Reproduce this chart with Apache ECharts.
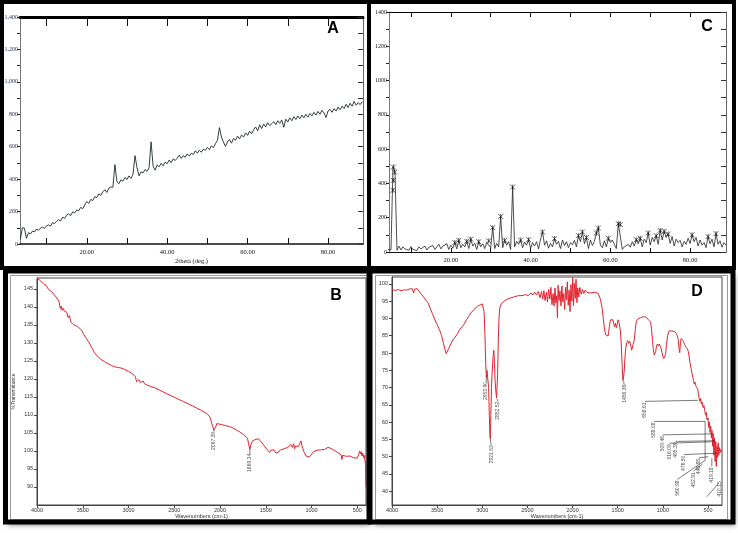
<!DOCTYPE html>
<html>
<head>
<meta charset="utf-8">
<script src="https://cdn.jsdelivr.net/npm/echarts@6/dist/echarts.min.js"></script>
<style>
  html, body { margin: 0; padding: 0; background: #fff; }
  #chart { width: 738px; height: 533px; }
</style>
</head>
<body>
<div id="chart"></div>
<script>
// ---- A: XRD pattern (2theta from 3.5, every 0.5 deg) ----
const xrdAStart = 3.5, xrdAStep = 0.5;
const xrdA = [
  30, 100, 98, 35, 70, 62, 80, 74, 92, 85,
  98, 104, 96, 112, 118, 110, 132, 126, 140, 150,
  142, 165, 158, 178, 186, 175, 198, 192, 210, 205,
  226, 218, 240, 262, 250, 275, 268, 292, 286, 310,
  300, 322, 335, 318, 345, 352, 350, 490, 385, 372,
  395, 388, 410, 398, 420, 405, 430, 545, 470, 420,
  445, 438, 460, 448, 470, 630, 480, 455, 488, 476,
  498, 482, 505, 495, 518, 502, 525, 515, 530, 548,
  528, 545, 535, 556, 542, 560, 552, 575, 560, 578,
  566, 585, 578, 596, 582, 605, 595, 618, 640, 718,
  660, 628, 602, 630, 645, 622, 652, 640, 665, 648,
  672, 660, 685, 670, 696, 680, 705, 722, 698, 735,
  712, 740, 722, 748, 730, 742, 755, 736, 760, 744,
  765, 720, 770, 752, 778, 760, 785, 768, 790, 772,
  795, 778, 800, 782, 805, 790, 812, 795, 818, 800,
  825, 808, 780, 820, 830, 812, 835, 820, 845, 828,
  850, 835, 862, 842, 868, 850, 880, 856, 872, 860,
  878
];

// ---- C: XRD pattern (2theta from 4.0, every 0.5 deg) ----
const xrdCStart = 4.0, xrdCStep = 0.5;
const xrdC = [
  15, 8, 12, 496, 470, 10, 35, 12, 30, 18,
  28, 10, 32, 15, 25, 8, 30, 18, 22, 35,
  12, 28, 20, 38, 15, 30, 45, 18, 35, 25,
  48, 15, 40, 22, 55, 18, 68, 25, 45, 30,
  62, 20, 75, 35, 50, 15, 60, 30, 48, 20,
  55, 65, 25, 142, 20, 50, 30, 208, 25, 68,
  40, 60, 15, 379, 30, 62, 45, 70, 25, 58,
  40, 72, 20, 55, 35, 60, 18, 75, 117, 40,
  65, 22, 50, 30, 78, 45, 62, 20, 70, 38,
  60, 25, 55, 42, 68, 30, 95, 60, 117, 48,
  85, 20, 70, 38, 62, 110, 140, 40, 25, 65,
  30, 80, 55, 70, 45, 20, 165, 160, 15, 30,
  20, 45, 28, 60, 35, 72, 48, 80, 30, 75,
  55, 111, 40, 85, 60, 95, 45, 126, 70, 120,
  85, 105, 50, 90, 35, 75, 55, 68, 30, 62,
  45, 80, 50, 100, 60, 85, 35, 70, 40, 55,
  25, 90, 48, 75, 30, 107, 45, 65, 28, 55,
  40
];
// peak marks (x) in C
const xrdCPeakX = [5.6, 5.9, 5.6, 5.5, 21, 22, 24, 25, 27, 29.5, 30.5, 32.5, 33.5, 35.5, 37.5, 39.5,
  43, 46, 52, 53, 54, 56.5, 57, 59.5, 62, 62.5, 66.5, 67.5, 69.5, 71.5, 72.5, 73.5, 74.5, 80.5, 84.5, 86.5];
const xrdCPeakY = [496, 466, 418, 360, 55, 68, 62, 75, 60, 65, 142, 208, 68, 379, 70, 72,
  117, 78, 95, 117, 85, 110, 140, 80, 165, 160, 72, 80, 111, 95, 126, 120, 105, 100, 90, 107];

// ---- B: FTIR ----
const irBWn = [
  4000, 3960, 3930, 3900, 3880, 3860, 3840, 3820, 3800, 3780,
  3760, 3750, 3745, 3735, 3725, 3715, 3700, 3690, 3675, 3660,
  3645, 3630, 3615, 3600, 3580, 3560, 3540, 3515, 3490, 3460,
  3430, 3400, 3375, 3350, 3320, 3290, 3250, 3200, 3160, 3120,
  3080, 3040, 3000, 2970, 2945, 2925, 2912, 2900, 2885, 2870,
  2855, 2840, 2825, 2800, 2700, 2600, 2500, 2400, 2300, 2200,
  2140, 2110, 2090, 2067, 2050, 2035, 2015, 1980, 1940, 1900,
  1860, 1820, 1780, 1740, 1720, 1700, 1688, 1674, 1662, 1645,
  1620, 1600, 1580, 1560, 1540, 1520, 1500, 1480, 1460, 1445,
  1430, 1410, 1390, 1375, 1360, 1340, 1320, 1300, 1280, 1260,
  1240, 1225, 1210, 1195, 1185, 1175, 1160, 1145, 1130, 1115,
  1105, 1095, 1080, 1060, 1040, 1025, 1010, 995, 980, 960,
  940, 920, 900, 880, 860, 840, 820, 800, 780, 760,
  740, 720, 700, 685, 675, 668, 660, 640, 620, 600,
  580, 560, 540, 520, 500, 485, 475, 465, 458, 450,
  440, 432, 425, 418, 412, 408, 405
];
const irBT = [
  148.0, 147.2, 146.4, 146.0, 145.0, 145.3, 144.2, 144.0, 143.0, 142.6,
  141.6, 141.9, 139.5, 140.2, 139.0, 139.6, 138.8, 139.1, 138.5, 137.0,
  137.6, 135.8, 136.0, 135.0, 134.9, 134.6, 134.2, 133.6, 132.4, 131.2,
  130.0, 128.6, 127.4, 126.6, 125.8, 125.2, 124.6, 123.9, 123.4, 123.2,
  123.0, 122.6, 122.1, 121.6, 121.2, 120.6, 119.2, 119.6, 119.8, 119.0,
  119.1, 119.4, 118.6, 118.3, 117.4, 116.1, 114.9, 113.7, 112.5, 111.2,
  110.3, 109.4, 107.6, 105.8, 106.5, 107.6, 107.8, 107.3, 107.0, 106.8,
  106.4, 105.8, 105.2, 104.5, 104.0, 103.5, 102.0, 100.4, 101.8, 102.8,
  103.1, 103.0, 103.4, 102.8, 102.2, 101.5, 101.0, 100.2, 99.6, 100.2,
  100.0, 100.3, 99.4, 99.8, 99.7, 100.3, 100.5, 100.6, 100.8, 101.0,
  101.3, 101.8, 101.0, 102.0, 100.6, 101.4, 100.9, 101.2, 102.0, 102.8,
  101.5, 100.6, 99.6, 98.6, 98.2, 98.3, 98.6, 99.2, 99.8, 100.0,
  100.2, 99.8, 100.3, 100.5, 100.4, 100.8, 101.0, 101.0, 100.6, 100.4,
  100.0, 99.7, 99.3, 99.0, 98.8, 97.6, 98.8, 98.7, 98.5, 98.2,
  98.6, 98.3, 98.1, 98.4, 98.0, 99.0, 100.0, 99.2, 99.8, 98.6,
  99.4, 98.2, 98.8, 97.6, 96.6, 93.0, 90.0
];
const irBNoteText = ['2067.39', '1669.34'];
const irBNoteAt = [[2067, 105.3], [1674, 99.2]];
const irBNoteLeader = [[[2067, 105.8], [2067, 105.3]], [[1674, 100.4], [1674, 99.2]]];

// ---- D: FTIR ----
const irDWn = [
  4000, 3960, 3930, 3900, 3870, 3840, 3810, 3790, 3775, 3760,
  3750, 3740, 3720, 3700, 3675, 3650, 3625, 3600, 3575, 3550,
  3525, 3500, 3475, 3450, 3430, 3415, 3400, 3385, 3370, 3350,
  3325, 3300, 3275, 3250, 3225, 3200, 3175, 3150, 3125, 3100,
  3075, 3050, 3025, 3000, 2990, 2980, 2970, 2962, 2955, 2948,
  2940, 2930, 2922, 2915, 2911, 2905, 2898, 2892, 2880, 2872,
  2865, 2858, 2850, 2842, 2837, 2830, 2822, 2815, 2807, 2790,
  2760, 2715, 2680, 2640, 2600, 2560, 2520, 2490, 2460, 2440,
  2420, 2400, 2380, 2360, 2345, 2330, 2318, 2305, 2290, 2278,
  2265, 2252, 2240, 2228, 2216, 2205, 2195, 2185, 2175, 2168,
  2160, 2150, 2140, 2128, 2118, 2108, 2098, 2088, 2078, 2068,
  2058, 2048, 2038, 2028, 2018, 2008, 1998, 1990, 1980, 1970,
  1962, 1952, 1942, 1932, 1920, 1905, 1890, 1875, 1860, 1840,
  1820, 1800, 1780, 1760, 1740, 1718, 1700, 1690, 1681, 1670,
  1660, 1650, 1640, 1630, 1620, 1607, 1600, 1590, 1580, 1570,
  1560, 1552, 1545, 1535, 1525, 1515, 1505, 1495, 1485, 1478,
  1470, 1460, 1450, 1442, 1435, 1428, 1420, 1410, 1400, 1390,
  1380, 1367, 1355, 1345, 1335, 1325, 1315, 1305, 1293, 1280,
  1265, 1250, 1235, 1220, 1200, 1185, 1170, 1160, 1145, 1135,
  1125, 1115, 1105, 1095, 1088, 1080, 1070, 1060, 1050, 1040,
  1030, 1020, 1010, 1000, 990, 980, 970, 960, 950, 940,
  930, 920, 910, 900, 890, 880, 870, 860, 850, 840,
  830, 820, 813, 805, 797, 787, 778, 768, 758, 748,
  738, 728, 718, 708, 698, 688, 678, 668, 660, 652,
  645, 638, 630, 622, 614, 606, 600, 590, 580, 573,
  565, 555, 545, 536, 528, 520, 510, 500, 492, 485,
  478, 470, 463, 456, 448, 442, 435, 428, 421, 414,
  408, 401, 394, 387, 380, 372, 365, 358, 350
];
const irDT = [
  98.3, 98.1, 98.4, 98.0, 98.3, 98.2, 98.5, 98.0, 98.6, 97.4,
  98.5, 98.2, 98.6, 97.8, 97.0, 96.2, 95.3, 94.5, 92.8, 91.2,
  89.6, 88.2, 86.8, 85.0, 82.8, 81.2, 79.8, 80.2, 81.4, 82.6,
  83.8, 84.6, 85.6, 86.8, 87.6, 88.4, 89.6, 90.6, 91.6, 92.4,
  93.0, 93.6, 93.9, 94.2, 94.0, 92.0, 85.0, 77.0, 72.9, 75.0,
  74.8, 70.0, 62.0, 56.0, 55.2, 62.0, 70.0, 73.8, 79.0, 80.8,
  77.0, 72.0, 69.0, 67.0, 66.8, 74.0, 84.0, 90.0, 93.0, 94.2,
  95.0, 95.7, 96.0, 96.3, 96.6, 96.6, 96.9, 96.6, 97.4, 96.8,
  97.6, 96.8, 97.8, 96.0, 97.8, 95.6, 98.0, 95.2, 97.6, 94.8,
  98.4, 95.6, 99.0, 94.0, 97.2, 93.6, 98.8, 94.5, 96.6, 90.2,
  99.6, 95.2, 98.0, 93.6, 99.4, 94.8, 97.2, 92.6, 99.0, 95.4,
  100.6, 93.8, 98.2, 92.0, 99.8, 95.0, 101.8, 93.6, 100.2, 95.8,
  101.4, 94.6, 98.8, 96.2, 99.0, 97.0, 98.4, 97.2, 98.2, 97.5,
  98.0, 97.4, 97.8, 97.6, 97.2, 97.3, 96.2, 95.4, 94.9, 92.6,
  90.0, 87.6, 86.0, 85.2, 84.8, 84.9, 86.0, 88.2, 89.6, 89.8,
  89.2, 89.6, 88.6, 87.6, 88.6, 87.3, 88.4, 89.6, 88.8, 88.7,
  86.4, 82.0, 76.0, 72.0, 71.8, 74.6, 78.6, 81.6, 83.0, 83.6,
  82.8, 83.4, 82.0, 80.8, 80.4, 81.2, 84.0, 87.0, 89.2, 89.8,
  90.0, 90.2, 90.6, 90.5, 90.3, 90.4, 90.2, 89.6, 90.1, 89.0,
  86.6, 83.6, 81.0, 79.4, 79.1, 80.4, 82.0, 82.6, 82.0, 82.6,
  82.2, 81.4, 80.2, 79.0, 78.4, 78.1, 79.6, 82.4, 84.6, 85.8,
  86.4, 86.2, 86.6, 86.4, 86.8, 86.5, 86.2, 85.8, 85.6, 85.0,
  83.8, 81.0, 80.1, 83.0, 84.2, 84.4, 83.6, 83.0, 82.4, 81.8,
  81.6, 81.2, 80.4, 78.8, 77.0, 75.6, 74.2, 73.0, 72.0, 71.0,
  71.6, 70.8, 70.2, 70.6, 69.6, 68.2, 67.2, 66.0, 66.8, 65.2,
  65.8, 64.2, 64.8, 63.4, 62.0, 62.8, 60.6, 61.2, 58.4, 60.0,
  57.0, 58.8, 55.4, 57.6, 53.0, 56.6, 50.4, 55.4, 48.6, 54.4,
  47.2, 53.0, 49.8, 54.0, 50.4, 52.6, 51.2, 52.0, 51.6
];
const irDNoteText = ['2953.90', '2921.53', '2852.52', '1456.36', '658.61', '588.08', '509.46', '516.09',
  '495.39', '476.50', '448.88', '419.18', '410.15', '560.98', '452.91'];
const irDNoteAt = [[2960, 71.6], [2898, 53.3], [2826, 65.9], [1425, 70.8], [1197, 65.7], [1097, 59.9],
  [1005, 56.0], [927, 53.6], [857, 54.1], [765, 50.3], [599, 49.3], [458, 46.9], [374, 42.9],
  [839, 43.1], [662, 45.5]];
const irDNoteLeader = [
  [[2955, 72.9], [2957, 71.6]],
  [[2911, 55.2], [2903, 53.4]],
  [[2837, 66.8], [2830, 65.9]],
  [[1435, 71.8], [1428, 70.8]],
  [[1197, 66.0], [612, 66.3]],
  [[1097, 60.2], [532, 60.2]],
  [[1005, 56.3], [440, 56.6]],
  [[927, 53.9], [458, 54.3]],
  [[857, 54.4], [422, 54.6]],
  [[765, 50.6], [403, 51.0]],
  [[599, 49.6], [497, 50.0]],
  [[458, 47.2], [458, 49.5]],
  [[513, 38.4], [385, 42.2]],
  [[839, 43.4], [532, 48.9], [532, 60.2]],
  [[662, 45.8], [562, 47.8]]
];

const serif = 'Liberation Serif';
const sans = 'Liberation Sans';
const xrdTicks = [10, 20, 30, 40, 50, 60, 70, 80];
const xrdLabels = [20, 40, 60, 80];
const irTicks = [4000, 3500, 3000, 2500, 2000, 1500, 1000, 500];

function pairs(start, step, ys) {
  return ys.map((v, i) => [start + i * step, v]);
}
function zip(xs, ys) {
  return xs.map((x, i) => [x, ys[i]]);
}

function xrdXAxis(grid, min, max, top) {
  if (top) {
    return {
      type: 'value', gridIndex: grid, position: 'top', min: min, max: max,
      axisLine: { onZero: false, lineStyle: { color: '#000', width: grid === 0 ? 3 : 1 } },
      axisTick: { inside: true, length: grid === 0 ? 9 : 5, customValues: xrdTicks, lineStyle: { color: '#111' } },
      axisLabel: { show: false }, splitLine: { show: false }
    };
  }
  return {
    type: 'value', gridIndex: grid, min: min, max: max,
    axisLine: { onZero: false, lineStyle: { color: '#111', width: grid === 0 ? 1.5 : 1 } },
    axisTick: { inside: true, length: grid === 0 ? 6 : 4, customValues: xrdTicks, lineStyle: { color: '#111' } },
    axisLabel: { customValues: xrdLabels, formatter: v => v.toFixed(2), fontFamily: serif, fontSize: 6.5, color: '#111', margin: 5 },
    splitLine: { show: false },
    name: '2theta (deg.)', nameLocation: 'middle', nameGap: grid === 0 ? 14 : 11,
    nameTextStyle: { fontFamily: serif, fontSize: 6.5, color: '#111' }
  };
}

function xrdYAxis(grid, right, comma, color) {
  if (right) {
    return {
      type: 'value', gridIndex: grid, position: 'right', min: 0, max: 1400, interval: 100,
      axisLine: { show: true, onZero: false, lineStyle: { color: '#666' } },
      axisTick: { show: true, inside: true, length: 5, lineStyle: { color: '#333' } },
      axisLabel: { show: false }, splitLine: { show: false }
    };
  }
  return {
    type: 'value', gridIndex: grid, min: 0, max: 1400, interval: 100,
    axisLine: { show: true, onZero: false, lineStyle: { color: '#777' } },
    axisTick: { show: true, length: 3, lineStyle: { color: '#222' } },
    axisLabel: {
      formatter: v => v % 200 === 0 ? (comma ? v.toLocaleString('en-US') : String(v)) : '',
      fontFamily: serif, fontSize: 6, color: color, margin: 2
    },
    splitLine: { show: false }
  };
}

function irXAxis(grid, min) {
  return {
    type: 'value', gridIndex: grid, inverse: true, min: min, max: 4000,
    axisLine: { onZero: false, lineStyle: { color: '#444' } },
    axisTick: { length: 3, customValues: irTicks, lineStyle: { color: '#444' } },
    axisLabel: { customValues: irTicks, formatter: v => String(v), fontFamily: sans, fontSize: 5.5, color: '#333', margin: 2 },
    splitLine: { show: false },
    name: 'Wavenumbers (cm-1)', nameLocation: 'middle', nameGap: 8,
    nameTextStyle: { fontFamily: sans, fontSize: 5.5, color: '#333' }
  };
}

function irYAxis(grid, min, max, lo, hi, title) {
  const vals = [];
  for (let v = lo; v <= hi; v += 5) vals.push(v);
  return {
    type: 'value', gridIndex: grid, min: min, max: max,
    axisLine: { show: true, onZero: false, lineStyle: { color: '#444' } },
    axisTick: { show: true, length: 3, customValues: vals, lineStyle: { color: '#444' } },
    axisLabel: { customValues: vals, formatter: v => String(v), fontFamily: sans, fontSize: 5.5, color: '#333', margin: 4 },
    splitLine: { show: false },
    name: title, nameLocation: 'middle', nameGap: 21, nameRotate: 90,
    nameTextStyle: { fontFamily: sans, fontSize: 5, color: '#333' }
  };
}

function noteLabels(xi, texts, at) {
  return {
    type: 'scatter', xAxisIndex: xi, yAxisIndex: xi, symbolSize: 0.1, silent: true,
    itemStyle: { color: 'transparent' }, z: 6,
    data: texts.map((t, i) => [at[i][0], at[i][1], t]),
    label: {
      show: true, position: 'inside', formatter: p => p.data[2], rotate: 90,
      align: 'right', verticalAlign: 'middle', fontFamily: sans, fontSize: 5, color: '#222'
    }
  };
}
function noteLines(xi, leaders) {
  return {
    type: 'lines', coordinateSystem: 'cartesian2d', xAxisIndex: xi, yAxisIndex: xi,
    polyline: true, silent: true, z: 5,
    lineStyle: { color: '#222', width: 0.6, opacity: 1 },
    data: leaders.map(c => ({ coords: c }))
  };
}

function letter(t, x, y) {
  return {
    type: 'text', x: x, y: y, z: 60,
    style: { text: t, font: 'bold 16px "Liberation Sans"', fill: '#000', textAlign: 'center', textVerticalAlign: 'middle' }
  };
}

const chart = echarts.init(document.getElementById('chart'));
chart.setOption({
  animation: false,
  backgroundColor: '#fff',
  grid: [
    { left: 20, top: 17, right: 375, bottom: 289 },
    { left: 389, top: 12, right: 12, bottom: 281 },
    { left: 37, top: 278, right: 372, bottom: 28, show: true, borderColor: '#444', borderWidth: 1 },
    { left: 392, top: 277, right: 16, bottom: 28, show: true, borderColor: '#444', borderWidth: 1 }
  ],
  xAxis: [
    xrdXAxis(0, 3.4, 88.7, false),
    xrdXAxis(0, 3.4, 88.7, true),
    xrdXAxis(1, 4.5, 89, false),
    xrdXAxis(1, 4.5, 89, true),
    irXAxis(2, 405),
    irXAxis(3, 345)
  ],
  yAxis: [
    xrdYAxis(0, false, true, '#22306a'),
    xrdYAxis(0, true),
    xrdYAxis(1, false, false, '#111'),
    xrdYAxis(1, true),
    irYAxis(2, 85, 148, 90, 145, '%Transmittance'),
    irYAxis(3, 36, 102, 40, 100, '')
  ],
  series: [
    {
      type: 'line', xAxisIndex: 0, yAxisIndex: 0, showSymbol: false, silent: true,
      lineStyle: { color: '#1e2b24', width: 0.9 }, data: pairs(xrdAStart, xrdAStep, xrdA)
    },
    {
      type: 'line', xAxisIndex: 2, yAxisIndex: 2, showSymbol: false, silent: true,
      lineStyle: { color: '#222', width: 0.8 }, data: pairs(xrdCStart, xrdCStep, xrdC)
    },
    {
      type: 'scatter', xAxisIndex: 2, yAxisIndex: 2, silent: true, z: 4,
      symbol: 'path://M0,0L10,10M10,0L0,10M5,0L5,10', symbolSize: 5,
      itemStyle: { color: 'none', borderColor: '#111', borderWidth: 0.8 },
      data: zip(xrdCPeakX, xrdCPeakY)
    },
    {
      type: 'line', xAxisIndex: 4, yAxisIndex: 4, showSymbol: false, silent: true,
      lineStyle: { color: '#e3232e', width: 1 }, data: zip(irBWn, irBT)
    },
    {
      type: 'line', xAxisIndex: 5, yAxisIndex: 5, showSymbol: false, silent: true,
      lineStyle: { color: '#e3232e', width: 1 }, data: zip(irDWn, irDT)
    },
    noteLines(4, irBNoteLeader),
    noteLabels(4, irBNoteText, irBNoteAt),
    noteLines(5, irDNoteLeader),
    noteLabels(5, irDNoteText, irDNoteAt)
  ],
  graphic: [
    // drop shadows for the lower panels
    { type: 'rect', z: -10, shape: { x: 6, y: 272, width: 362, height: 249 },
      style: { fill: '#fff', shadowBlur: 5, shadowOffsetX: 2, shadowOffsetY: 4, shadowColor: 'rgba(0,0,0,0.5)' } },
    { type: 'rect', z: -10, shape: { x: 371, y: 272, width: 361, height: 249 },
      style: { fill: '#fff', shadowBlur: 5, shadowOffsetX: 3, shadowOffsetY: 4, shadowColor: 'rgba(0,0,0,0.5)' } },
    // inner grey frames
    { type: 'rect', z: 20, shape: { x: 10.5, y: 275.5, width: 357, height: 244 }, style: { fill: 'none', stroke: '#999', lineWidth: 1 } },
    { type: 'rect', z: 20, shape: { x: 375.5, y: 275.5, width: 352, height: 244 }, style: { fill: 'none', stroke: '#999', lineWidth: 1 } },
    // black panel borders
    { type: 'rect', z: 50, shape: { x: 2, y: 2, width: 367, height: 266 }, style: { fill: 'none', stroke: '#000', lineWidth: 4 } },
    { type: 'rect', z: 50, shape: { x: 369, y: 2, width: 365, height: 266 }, style: { fill: 'none', stroke: '#000', lineWidth: 4 } },
    { type: 'rect', z: 50, shape: { x: 5.5, y: 271, width: 363.5, height: 251 }, style: { fill: 'none', stroke: '#000', lineWidth: 5 } },
    { type: 'rect', z: 50, shape: { x: 370, y: 271, width: 363, height: 251 }, style: { fill: 'none', stroke: '#000', lineWidth: 5 } },
    letter('A', 333, 29),
    letter('C', 707, 27),
    letter('B', 336, 296),
    letter('D', 697, 292)
  ]
});
</script>
</body>
</html>
